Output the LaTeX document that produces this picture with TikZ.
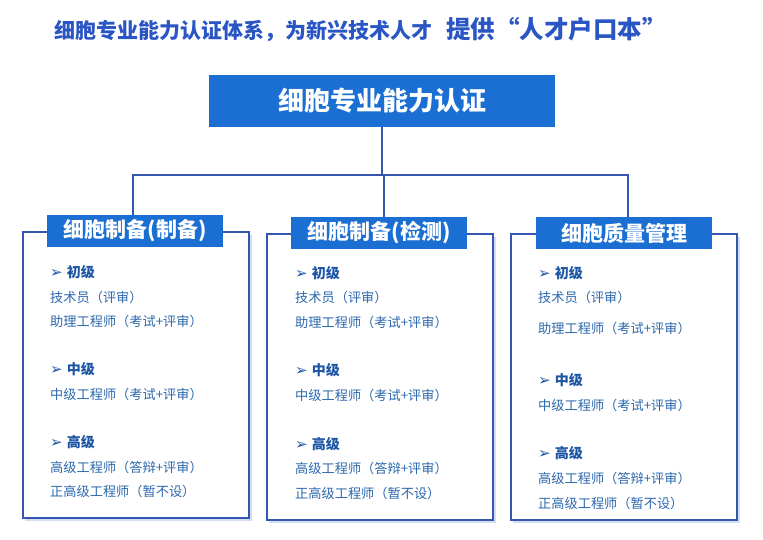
\documentclass[tikz,border=0pt]{standalone}
\usepackage{fontspec}
\newfontfamily\cjk{Noto Sans CJK SC}
\newfontfamily\symf{DejaVu Sans}
\definecolor{titleblue}{HTML}{2A55C4}
\definecolor{boxblue}{HTML}{1C6FD2}
\definecolor{framec}{HTML}{3556B0}
\definecolor{headc}{HTML}{1E56A6}
\definecolor{bodyc}{HTML}{2C68AE}
\definecolor{shadowc}{HTML}{D3DEF3}
\newcommand{\arr}{{\symf\fontsize{15}{16}\selectfont ➢}\hspace{4pt}}
\begin{document}
\begin{tikzpicture}[x=1pt,y=-1pt,
  conn/.style={draw=framec,line width=2pt},
  frame/.style={draw=framec,line width=1.8pt},
  topbox/.style={fill=boxblue,text=white,minimum width=346pt,minimum height=52pt,inner sep=0pt,font=\cjk\bfseries\fontsize{26}{29}\selectfont},
  labbox/.style={fill=boxblue,text=white,minimum width=176pt,minimum height=32pt,inner sep=0pt,font=\cjk\bfseries\fontsize{21}{24}\selectfont},
  head/.style={anchor=west,inner sep=0pt,text=headc,font=\cjk\bfseries\fontsize{14}{16}\selectfont},
  body/.style={anchor=west,inner sep=0pt,text=bodyc,font=\cjk\fontsize{13.2}{15}\selectfont},
]
\useasboundingbox (0,0) rectangle (763,539);
\fill[white] (0,0) rectangle (763,539);
% title
\node[anchor=west,inner sep=0pt,text=titleblue] (title) at (54,30)
  {\cjk\bfseries\fontsize{21}{24}\selectfont 细胞专业能力认证体系，为新兴技术人才\hspace{14pt}\fontsize{24.5}{27}\selectfont 提供“人才户口本”};
% top box
\node[topbox] (top) at (382,101) {细胞专业能力认证};
% panels: frames with shadows
\foreach \x/\y/\h in {23/232/286,267/234/286,511/234/286}{
  \fill[shadowc] (\x+2,\y+3) rectangle (\x+226+3,\y+\h+3);
  \fill[white] (\x,\y) rectangle (\x+226,\y+\h);
}
% frames
\draw[frame] (47,232) -- (23,232) -- (23,518) -- (249,518) -- (249,232) -- (223,232);
\draw[frame] (292,234) -- (267,234) -- (267,520) -- (493,520) -- (493,234) -- (466,234);
\draw[frame] (536,234) -- (511,234) -- (511,520) -- (737,520) -- (737,234) -- (712,234);
% labels
\node[labbox] (l1) at (135,231) {细胞制备(制备)};
\node[labbox] (l2) at (379,233) {细胞制备(检测)};
\node[labbox] (l3) at (624,233) {细胞质量管理};
% connectors
\coordinate (j) at (382,175);
\draw[conn] (top.south) -- (j);
\draw[conn] (l1.north -| 133,0) |- (j);
\draw[conn] (l3.north -| 628,0) |- (j);
\draw[conn] (l2.north -| 384,0) -- (384,175);
% panel 1
\node[head] (a1) at (50,272) {\arr 初级};
\node[body] (a2) at (50,297) {技术员（评审）};
\node[body] (a3) at (50,321) {助理工程师（考试+评审）};
\node[head] (a4) at (50,369) {\arr 中级};
\node[body] (a5) at (50,394) {中级工程师（考试+评审）};
\node[head] (a6) at (50,442) {\arr 高级};
\node[body] (a7) at (50,467) {高级工程师（答辩+评审）};
\node[body] (a8) at (50,491) {正高级工程师（暂不设）};
% panel 2
\node[head] (b1) at (295,273) {\arr 初级};
\node[body] (b2) at (295,297) {技术员（评审）};
\node[body] (b3) at (295,322) {助理工程师（考试+评审）};
\node[head] (b4) at (295,370) {\arr 中级};
\node[body] (b5) at (295,395) {中级工程师（考试+评审）};
\node[head] (b6) at (295,444) {\arr 高级};
\node[body] (b7) at (295,468) {高级工程师（答辩+评审）};
\node[body] (b8) at (295,493) {正高级工程师（暂不设）};
% panel 3
\node[head] (c1) at (538,273) {\arr 初级};
\node[body] (c2) at (538,297) {技术员（评审）};
\node[body] (c3) at (538,328) {助理工程师（考试+评审）};
\node[head] (c4) at (538,380) {\arr 中级};
\node[body] (c5) at (538,405) {中级工程师（考试+评审）};
\node[head] (c6) at (538,453) {\arr 高级};
\node[body] (c7) at (538,478) {高级工程师（答辩+评审）};
\node[body] (c8) at (538,503) {正高级工程师（暂不设）};
\end{tikzpicture}
\end{document}
